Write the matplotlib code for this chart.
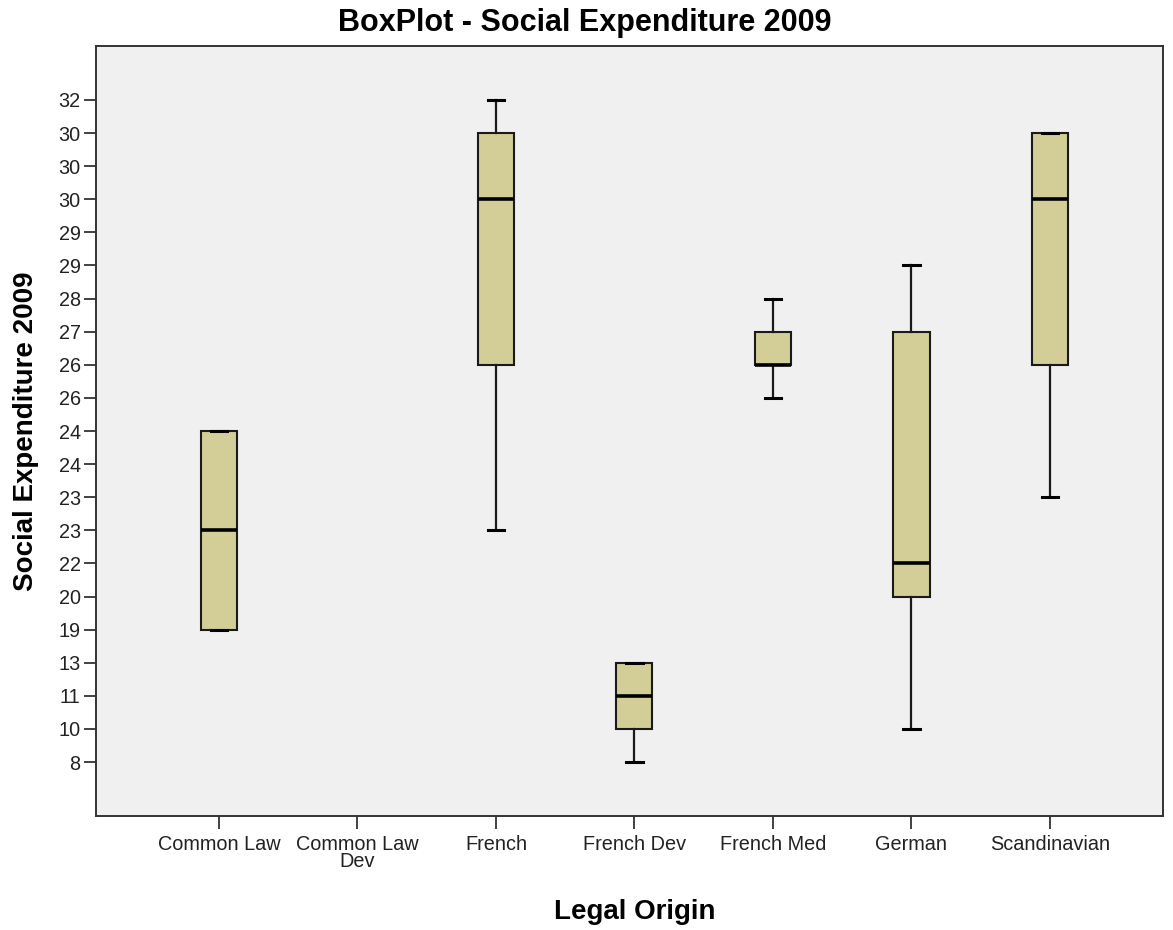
import matplotlib
matplotlib.use("Agg")
import matplotlib.pyplot as plt

plt.rcParams['font.family'] = ['Liberation Sans', 'DejaVu Sans']

# Category axis
categories = ["Common Law", "Common Law\nDev", "French", "French Dev",
              "French Med", "German", "Scandinavian"]

# Ordinal y-axis: tick labels from bottom (position 1) to top (position 21)
y_tick_labels = [8, 10, 11, 13, 19, 20, 22, 23, 23, 24, 24, 26, 26, 27,
                 28, 29, 29, 30, 30, 30, 32]

# Box statistics expressed on the ordinal scale (position of tick label)
# None means no box for that category
whis_low = [5, None, 8, 1, 12, 2, 9]
q1       = [5, None, 13, 2, 13, 6, 13]
medians  = [8, None, 18, 3, 13, 7, 18]
q3       = [11, None, 20, 4, 14, 14, 20]
whis_high = [11, None, 21, 4, 15, 16, 20]

fig = plt.figure(figsize=(11.73, 9.30), dpi=100)
ax = fig.add_axes([0.0818, 0.1226, 0.9915 - 0.0818, 0.9505 - 0.1226])
ax.set_facecolor('#F0F0F0')

stats, positions = [], []
for i in range(len(categories)):
    if medians[i] is None:
        continue
    stats.append(dict(med=medians[i], q1=q1[i], q3=q3[i],
                      whislo=whis_low[i], whishi=whis_high[i], fliers=[]))
    positions.append(i)

edge = '#1a1a1a'
ax.bxp(stats, positions=positions, widths=0.26, capwidths=0.12,
       patch_artist=True, showfliers=False,
       boxprops=dict(facecolor='#D3CE97', edgecolor=edge, linewidth=1.5),
       medianprops=dict(color='black', linewidth=2.6, solid_capstyle='butt'),
       whiskerprops=dict(color=edge, linewidth=1.6),
       capprops=dict(color='black', linewidth=2.2))

ax.set_xlim(-0.888, 6.816)
ax.set_ylim(-0.63, 22.63)

ax.set_xticks(range(len(categories)))
ax.set_xticklabels(categories, fontsize=14.3, linespacing=0.82, color='#222222')
yt = list(range(1, len(y_tick_labels) + 1))
ax.set_yticks(yt)
ax.set_yticklabels([str(v) for v in y_tick_labels], fontsize=14.3, color='#222222')

ax.tick_params(axis='x', length=9, width=1.3, color='#333333', pad=5)
ax.tick_params(axis='y', length=9, width=1.3, color='#333333', pad=2)
for s in ax.spines.values():
    s.set_color('#333333')
    s.set_linewidth(1.4)

fig.text(0.4987, 0.9665, "BoxPlot - Social Expenditure 2009", fontsize=22,
         fontweight='bold', ha='center', va='baseline')
ax.set_xlabel("Legal Origin", fontsize=20, fontweight='bold')
ax.xaxis.set_label_coords(0.505, -0.108, transform=ax.transAxes)
ax.xaxis.label.set_va('top')
ax.set_ylabel("Social Expenditure 2009", fontsize=20, fontweight='bold',
              labelpad=14)

fig.savefig("out.png", dpi=100, facecolor='white')
